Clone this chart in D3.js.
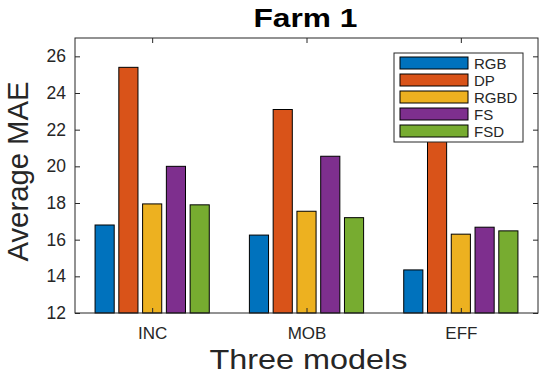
<!DOCTYPE html>
<html>
<head>
<meta charset="utf-8">
<script src="https://cdn.jsdelivr.net/npm/d3@7"></script>
<style>
body { margin: 0; background: #fff; }
svg { display: block; font-family: "Liberation Sans", Arial, sans-serif; }
</style>
</head>
<body>
<svg id="chart" width="550" height="379"></svg>
<script>
const categories = ["INC", "MOB", "EFF"];
const seriesNames = ["RGB", "DP", "RGBD", "FS", "FSD"];
const RGB  = [16.8, 16.25, 14.35];
const DP   = [25.4, 23.1, 22.3];
const RGBD = [17.95, 17.55, 16.3];
const FS   = [20.0, 20.55, 16.68];
const FSD  = [17.9, 17.2, 16.48];
const yTicks = [12, 14, 16, 18, 20, 22, 24, 26];
const colors = ["#0072BD", "#D95319", "#EDB120", "#7E2F8E", "#77AC30"];
const seriesValues = [RGB, DP, RGBD, FS, FSD];

const svg = d3.select("#chart");
const m = {left: 75, right: 12, top: 38, bottom: 66};
const W = 550, H = 379;
const pw = W - m.left - m.right, ph = H - m.top - m.bottom;
const g = svg.append("g").attr("transform", `translate(${m.left},${m.top})`);

const x = d3.scaleLinear().domain([0.5, 3.5]).range([0, pw]);
const y = d3.scaleLinear().domain([12, 27]).range([ph, 0]);
const unit = x(2) - x(1);
const step = unit * 0.154;
const bw = unit * 0.124;

// bars
seriesValues.forEach((vals, si) => {
  g.selectAll(".b" + si).data(vals).enter().append("rect")
    .attr("x", (d, i) => x(i + 1) + (si - 2) * step - bw / 2)
    .attr("y", d => y(d))
    .attr("width", bw)
    .attr("height", d => y(12) - y(d))
    .attr("fill", colors[si])
    .attr("stroke", "#000")
    .attr("stroke-width", 1);
});

const axisColor = "#262626";
// box
g.append("rect").attr("x", 0).attr("y", 0).attr("width", pw).attr("height", ph)
  .attr("fill", "none").attr("stroke", axisColor).attr("stroke-width", 1);

// y ticks left & right
const yAxis = g.append("g").call(d3.axisLeft(y).tickValues(yTicks).tickSize(-5).tickPadding(9));
yAxis.select(".domain").remove();
yAxis.selectAll("line").attr("stroke", axisColor);
yAxis.selectAll("text").attr("fill", axisColor).style("font-size", "17.5px");
const yAxisR = g.append("g").attr("transform", `translate(${pw},0)`)
  .call(d3.axisRight(y).tickValues(yTicks).tickSize(-5).tickFormat(""));
yAxisR.select(".domain").remove();
yAxisR.selectAll("line").attr("stroke", axisColor);

// x ticks bottom & top
const xAxis = g.append("g").attr("transform", `translate(0,${ph})`)
  .call(d3.axisBottom(x).tickValues([1, 2, 3]).tickFormat((d) => categories[d - 1]).tickSize(-5).tickPadding(14));
xAxis.select(".domain").remove();
xAxis.selectAll("line").attr("stroke", axisColor);
xAxis.selectAll("text").attr("fill", axisColor).style("font-size", "17px");
const xAxisT = g.append("g")
  .call(d3.axisTop(x).tickValues([1, 2, 3]).tickFormat("").tickSize(-5));
xAxisT.select(".domain").remove();
xAxisT.selectAll("line").attr("stroke", axisColor);

// title
svg.append("text").attr("x", m.left + pw / 2 - 1).attr("y", 27).attr("text-anchor", "middle")
  .style("font-size", "26px").style("font-weight", "bold").attr("fill", "#000")
  .attr("textLength", 104).attr("lengthAdjust", "spacingAndGlyphs").text("Farm 1");
// axis labels
svg.append("text").attr("x", m.left + pw / 2 + 2).attr("y", 369).attr("text-anchor", "middle")
  .style("font-size", "28px").attr("fill", axisColor)
  .attr("textLength", 198).attr("lengthAdjust", "spacingAndGlyphs").text("Three models");
svg.append("text").attr("transform", `translate(28,${m.top + ph / 2 - 4}) rotate(-90)`)
  .attr("text-anchor", "middle").style("font-size", "29px").attr("fill", axisColor)
  .attr("textLength", 180).attr("lengthAdjust", "spacingAndGlyphs").text("Average MAE");

// legend
const lg = svg.append("g").attr("transform", "translate(394,53)");
lg.append("rect").attr("width", 129).attr("height", 89).attr("fill", "#fff")
  .attr("stroke", axisColor).attr("stroke-width", 1);
seriesNames.forEach((n, i) => {
  const row = lg.append("g").attr("transform", `translate(0,${10 + i * 17})`);
  row.append("rect").attr("x", 6).attr("y", -6).attr("width", 68).attr("height", 12)
    .attr("fill", colors[i]).attr("stroke", "#000");
  row.append("text").attr("x", 80).attr("y", 5.5).style("font-size", "15px")
    .attr("fill", axisColor).text(n);
});
</script>
</body>
</html>
